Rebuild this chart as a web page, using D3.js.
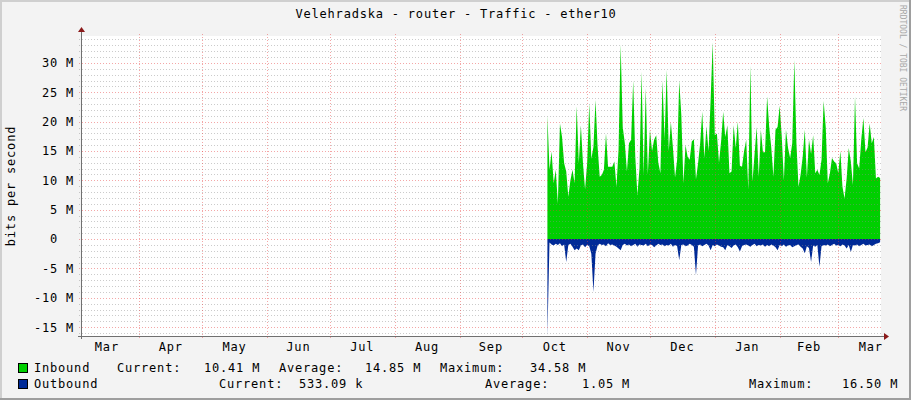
<!DOCTYPE html>
<html>
<head>
<meta charset="UTF-8">
<title>Velehradska - router - Traffic - ether10</title>
<script src="https://cdn.jsdelivr.net/npm/d3@7"></script>
<style>
  body { margin: 0; background: #f3f3f3; }
  text { font-family: "DejaVu Sans Mono", monospace; }
</style>
</head>
<body>
<script>
// daily values in Mbit/s, starting 13 Oct
var inbound = [
  21.1, 11.8, 14.9, 9.5, 11.8, 6.0, 19.7, 17.4, 12.9, 11.5, 7.2, 10.0, 11.8, 9.5, 22.6, 12.9, 19.4, 12.9, 8.5, 12.9,
  23.1, 13.7, 15.7, 23.7, 15.7, 10.6, 10.9, 11.8, 18.0, 12.3, 12.3, 12.3, 13.2, 8.9, 15.2, 33.1, 19.1, 16.3, 11.5, 16.3,
  16.9, 27.0, 14.0, 7.5, 12.0, 28.5, 11.0, 25.7, 11.0, 18.6, 15.0, 16.9, 17.7, 13.0, 11.2, 27.0, 16.9, 28.8, 15.0, 20.0,
  15.5, 10.5, 13.5, 27.0, 21.1, 9.5, 16.0, 14.0, 13.5, 16.6, 17.0, 10.2, 12.9, 16.3, 21.7, 13.8, 19.2, 15.0, 23.7, 33.5,
  17.7, 18.0, 13.0, 16.6, 21.7, 17.4, 19.4, 11.2, 11.5, 19.4, 15.5, 20.0, 12.5, 12.3, 15.0, 16.9, 8.4, 29.5, 9.8, 14.5,
  19.1, 10.6, 18.6, 14.8, 14.8, 24.3, 19.1, 15.5, 10.6, 18.6, 19.1, 22.7, 17.4, 10.0, 18.6, 15.5, 13.8, 16.3, 30.5, 16.3,
  8.9, 11.0, 14.0, 18.6, 10.5, 16.9, 14.5, 17.7, 11.2, 11.8, 10.9, 13.5, 23.5, 19.1, 9.5, 11.2, 13.8, 13.2, 12.9, 11.2,
  15.0, 8.9, 6.9, 10.3, 15.5, 13.2, 9.2, 24.3, 12.9, 12.0, 17.0, 20.6, 14.8, 15.6, 19.7, 16.3, 17.4, 10.3, 10.6, 10.41
];
var outbound = [
  -16.5, -0.6, -0.9, -1.1, -0.8, -1.0, -0.7, -1.2, -0.9, -3.9, -1.0, -0.8, -1.3, -1.9, -1.6, -1.9, -1.1, -0.9, -1.4, -1.0,
  -1.2, -2.5, -9.0, -2.5, -1.1, -0.8, -1.0, -0.9, -1.2, -0.7, -1.0, -0.9, -1.1, -1.3, -1.6, -1.9, -1.0, -0.8, -1.1, -0.9,
  -1.2, -1.0, -0.8, -1.3, -0.9, -1.0, -1.1, -0.8, -1.2, -0.9, -1.0, -1.4, -1.1, -0.8, -1.0, -0.9, -1.2, -1.0, -1.1, -0.8,
  -1.3, -1.0, -1.2, -3.6, -1.0, -0.9, -1.2, -1.1, -0.8, -1.0, -1.3, -6.1, -1.1, -0.9, -1.2, -1.0, -0.8, -1.1, -1.9, -1.0,
  -1.2, -0.9, -1.1, -1.3, -1.4, -1.9, -1.0, -1.2, -1.5, -1.1, -0.9, -1.4, -2.1, -1.2, -1.0, -0.9, -1.1, -1.3, -1.0, -0.8,
  -1.2, -1.0, -1.1, -0.9, -1.3, -1.0, -1.2, -0.9, -1.1, -1.4, -1.9, -1.0, -1.2, -0.9, -1.3, -1.1, -1.0, -1.4, -1.2, -1.0,
  -0.9, -1.3, -1.6, -2.4, -1.2, -1.5, -3.9, -1.1, -1.3, -1.0, -4.7, -1.2, -1.0, -1.1, -0.9, -1.2, -1.0, -0.8, -1.1, -1.0,
  -1.2, -0.9, -1.1, -1.6, -1.0, -2.2, -1.0, -1.1, -0.9, -1.2, -1.0, -0.8, -1.1, -1.0, -0.9, -1.2, -1.0, -0.8, -0.7, -0.53
];
var monthLabels = ["Mar", "Apr", "May", "Jun", "Jul", "Aug", "Sep", "Oct", "Nov", "Dec", "Jan", "Feb", "Mar"];
var yTicks = [-15, -10, -5, 0, 5, 10, 15, 20, 25, 30];
var maxima = [34.58, 16.50];   // inbound max, outbound max (Mbit/s)
var inStats = ["10.41 M", "14.85 M", "34.58 M"];
var outStats = ["533.09 k", "1.05 M", "16.50 M"];

var width = 911, height = 400;
var pLeft = 81, pRight = 881, pTop = 36, pBottom = 336;

var svg = d3.select("body").append("svg")
  .attr("width", width)
  .attr("height", height)
  .style("display", "block");

// frame
svg.append("rect").attr("width", width).attr("height", height).attr("fill", "#f3f3f3");
svg.append("rect").attr("x", 0).attr("y", 0).attr("width", width).attr("height", 2).attr("fill", "#cfcfcf");
svg.append("rect").attr("x", 0).attr("y", 0).attr("width", 2).attr("height", height).attr("fill", "#cfcfcf");
svg.append("rect").attr("x", width - 2).attr("y", 0).attr("width", 2).attr("height", height).attr("fill", "#9e9e9e");
svg.append("rect").attr("x", 0).attr("y", height - 2).attr("width", width).attr("height", 2).attr("fill", "#9e9e9e");

var x = d3.scaleUtc()
  .domain([new Date(Date.UTC(2018, 2, 4, 3)), new Date(Date.UTC(2019, 2, 21, 10))])
  .range([pLeft, pRight]);
var y = d3.scaleLinear().domain([-maxima[1], maxima[0]]).range([pBottom, pTop]);

svg.append("rect").attr("x", pLeft).attr("y", pTop)
  .attr("width", pRight - pLeft).attr("height", pBottom - pTop).attr("fill", "#ffffff");

var start = new Date(Date.UTC(2018, 9, 13));
var inData = inbound.map(function (v, i) { return { date: d3.utcDay.offset(start, i), v: v }; });
var outData = outbound.map(function (v, i) { return { date: d3.utcDay.offset(start, i), v: v }; });

var area = d3.area()
  .x(function (d) { return x(d.date); })
  .y0(y(0))
  .y1(function (d) { return y(d.v); });

svg.append("path").datum(inData).attr("d", area).attr("fill", "#00cf00");
svg.append("path").datum(outData).attr("d", area).attr("fill", "#002a97");

// grid (drawn over the data like rrdtool)
var grid = svg.append("g").attr("shape-rendering", "crispEdges");
var minor = d3.range(-16, 35).filter(function (v) { return v % 5 !== 0; });
grid.selectAll("line.minor").data(minor).enter().append("line")
  .attr("x1", pLeft - 2).attr("x2", pRight + 2)
  .attr("y1", function (d) { return Math.round(y(d)) + 0.5; })
  .attr("y2", function (d) { return Math.round(y(d)) + 0.5; })
  .attr("stroke", "rgba(140,140,140,0.45)")
  .attr("stroke-dasharray", "1,2");

grid.selectAll("line.major").data(yTicks).enter().append("line")
  .attr("x1", pLeft - 2).attr("x2", pRight + 2)
  .attr("y1", function (d) { return Math.round(y(d)) + 0.5; })
  .attr("y2", function (d) { return Math.round(y(d)) + 0.5; })
  .attr("stroke", "rgba(230,60,60,0.45)")
  .attr("stroke-dasharray", "1,2");

var monthStarts = d3.utcMonth.range(new Date(Date.UTC(2018, 2, 1)), new Date(Date.UTC(2019, 3, 2)));
var bounds = monthStarts.filter(function (d) { return x(d) > pLeft && x(d) < pRight; });
grid.selectAll("line.vmaj").data(bounds).enter().append("line")
  .attr("y1", pTop - 2).attr("y2", pBottom + 3)
  .attr("x1", function (d) { return Math.round(x(d)) + 0.5; })
  .attr("x2", function (d) { return Math.round(x(d)) + 0.5; })
  .attr("stroke", "rgba(230,60,60,0.45)")
  .attr("stroke-dasharray", "1,2");

// axes
svg.append("line").attr("x1", pLeft - 3).attr("x2", pRight + 3)
  .attr("y1", pBottom + 0.5).attr("y2", pBottom + 0.5)
  .attr("stroke", "#707070").attr("shape-rendering", "crispEdges");
svg.append("line").attr("x1", pLeft + 0.5).attr("x2", pLeft + 0.5)
  .attr("y1", pBottom + 3).attr("y2", pTop - 4)
  .attr("stroke", "#707070").attr("shape-rendering", "crispEdges");
svg.append("path")
  .attr("d", "M" + (pRight + 3) + "," + (pBottom - 3) + "L" + (pRight + 8) + "," + (pBottom + 0.5) + "L" + (pRight + 3) + "," + (pBottom + 4) + "Z")
  .attr("fill", "#8b1a1a");
svg.append("path")
  .attr("d", "M" + (pLeft - 3) + "," + (pTop - 4) + "L" + (pLeft + 0.5) + "," + (pTop - 9) + "L" + (pLeft + 4) + "," + (pTop - 4) + "Z")
  .attr("fill", "#8b1a1a");

// y tick labels
svg.append("g").selectAll("text").data(yTicks).enter().append("text")
  .attr("x", 74)
  .attr("y", function (d) { return y(d); })
  .attr("dy", "0.36em")
  .attr("text-anchor", "end")
  .style("white-space", "pre")
  .style("letter-spacing", "0.8px")
  .attr("font-size", 12)
  .attr("fill", "#000")
  .text(function (d) { return d === 0 ? "0  " : d + " M"; });

// month labels, centred on each month
svg.append("g").selectAll("text").data(monthLabels).enter().append("text")
  .attr("x", function (d, i) {
    var a = monthStarts[i], b = monthStarts[i + 1];
    return x(new Date((a.getTime() + b.getTime()) / 2));
  })
  .attr("y", 351)
  .attr("text-anchor", "middle")
  .style("letter-spacing", "0.8px")
  .attr("font-size", 12)
  .attr("fill", "#000")
  .text(function (d) { return d; });

// title
svg.append("text").attr("x", 456).attr("y", 18)
  .attr("text-anchor", "middle").attr("font-size", 12)
  .style("letter-spacing", "0.8px")
  .text("Velehradska - router - Traffic - ether10");

// y axis title
svg.append("text")
  .attr("transform", "translate(15,186) rotate(-90)")
  .attr("text-anchor", "middle").attr("font-size", 12)
  .style("letter-spacing", "0.8px")
  .text("bits per second");

// watermark
svg.append("text")
  .attr("transform", "translate(900,5) rotate(90)")
  .attr("font-size", 8).attr("fill", "#a8a8a8")
  .text("RRDTOOL / TOBI OETIKER");

// legend
var legend = svg.append("g").style("letter-spacing", "0.8px").attr("font-size", 12);
legend.append("rect").attr("x", 18.5).attr("y", 363.5).attr("width", 9).attr("height", 9)
  .attr("fill", "#00cf00").attr("stroke", "#000");
legend.append("rect").attr("x", 18.5).attr("y", 379.5).attr("width", 9).attr("height", 9)
  .attr("fill", "#002a97").attr("stroke", "#000");

var row1 = [["Inbound", 34], ["Current:", 117], [inStats[0], 204], ["Average:", 279], [inStats[1], 365], ["Maximum:", 440], [inStats[2], 530]];
var row2 = [["Outbound", 34], ["Current:", 219], [outStats[0], 299], ["Average:", 485], [outStats[1], 582], ["Maximum:", 749], [outStats[2], 842]];
legend.selectAll("text.r1").data(row1).enter().append("text")
  .attr("x", function (d) { return d[1]; }).attr("y", 372)
  .text(function (d) { return d[0]; });
legend.selectAll("text.r2").data(row2).enter().append("text")
  .attr("x", function (d) { return d[1]; }).attr("y", 388)
  .text(function (d) { return d[0]; });
</script>
</body>
</html>
